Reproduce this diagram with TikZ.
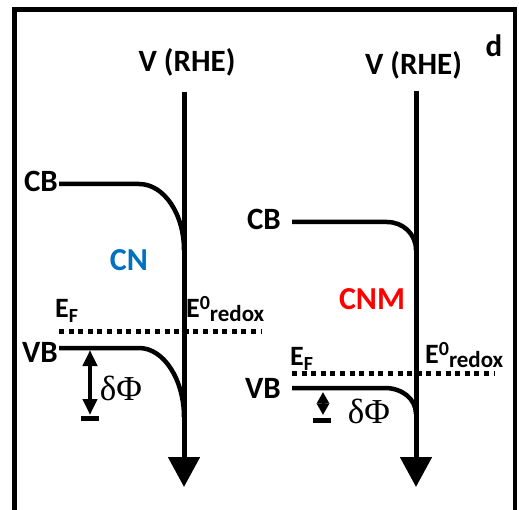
\documentclass[tikz,border=0pt]{standalone}
\usepackage{fontspec}
\setmainfont{Carlito}
\newfontfamily\symfont{Liberation Serif}
\usetikzlibrary{arrows.meta}
\definecolor{cnblue}{RGB}{0,112,192}
\definecolor{cnmred}{RGB}{255,0,0}
\newcommand{\efermi}{{\fontsize{28}{30}\selectfont E}{\fontsize{20}{22}\selectfont\raisebox{-5pt}{F}}}
\newcommand{\eredox}{{\fontsize{28}{30}\selectfont E}{\fontsize{20}{22}\selectfont\raisebox{8pt}{0}}{\fontsize{23}{25}\selectfont\raisebox{-4pt}{redox}}}
\begin{document}
\begin{tikzpicture}[x=1pt,y=-1pt,
  lbl/.style={inner sep=0pt, font=\bfseries\fontsize{31}{34}\selectfont},
  biglbl/.style={inner sep=0pt, font=\bfseries\fontsize{31}{34}\selectfont},
  cnlbl/.style={inner sep=0pt, font=\bfseries\fontsize{32}{35}\selectfont},
  elbl/.style={inner sep=0pt, font=\bfseries},
  phil/.style={inner sep=0pt, font=\symfont\fontsize{35}{38}\selectfont},
  frameline/.style={line width=4.5pt},
  axis/.style={line width=5pt, -{Triangle[width=31pt,length=30pt]}},
  band/.style={line width=4.5pt},
  fermi/.style={line width=5pt, dash pattern=on 5pt off 4.6pt},
  dphiL/.style={line width=4pt, {Triangle[width=14pt,length=16pt]}-{Triangle[width=14pt,length=16pt]}},
  dphiR/.style={line width=3pt, {Triangle[width=12pt,length=11.5pt]}-{Triangle[width=12pt,length=11.5pt]}},
  barline/.style={line width=5pt}
]
\useasboundingbox (0,0) rectangle (519,510);
% frame
\coordinate (fBL) at (14.5,514);
\coordinate (fTL) at (14.5,9.5);
\coordinate (fTR) at (515,9.5);
\coordinate (fBR) at (515,514);
\draw[frameline] (fBL) -- (fTL) -- (fTR) -- (fBR);

% axes
\coordinate (axLt) at (184,92);
\coordinate (axLb) at (184,487);
\coordinate (axRt) at (416,91);
\coordinate (axRb) at (416,487);
\draw[axis] (axLt) -- (axLb);
\draw[axis] (axRt) -- (axRb);

\node[biglbl, anchor=base] (vL) at (187,72) {V (RHE)};
\node[biglbl, anchor=base] (vR) at (413.5,75) {V (RHE)};
\node[lbl, anchor=base] (dlab) at (494,57) {d};

% left bands
\coordinate (cbL0) at (59,184);
\coordinate (cbL1) at (139,184);
\coordinate (cbL2) at (184,250);
\draw[band] (cbL0) -- (cbL1) .. controls (164,184) and (184,214) .. (cbL2);
\coordinate (vbL0) at (59,348);
\coordinate (vbL1) at (139,348);
\coordinate (vbL2) at (184,417);
\draw[band] (vbL0) -- (vbL1) .. controls (164,348) and (184,380) .. (vbL2);
\coordinate (efL0) at (59,332);
\coordinate (efL1) at (262,332);
\draw[fermi] (efL0) -- (efL1);

\node[lbl, anchor=base east] (cbLt) at (58,192) {CB};
\node[lbl, anchor=base east] (vbLt) at (58,362) {VB};
\node[cnlbl, anchor=base, text=cnblue] (cn) at (129,271) {CN};
\node[elbl, anchor=base west] (efLt) at (55,318) {\efermi};
\node[elbl, anchor=base west] (erLt) at (186,318) {\eredox};

\coordinate (dpL0) at (90,350);
\coordinate (dpL1) at (90,415);
\draw[dphiL] (dpL0) -- (dpL1);
\coordinate (brL0) at (81,418);
\coordinate (brL1) at (99,418);
\draw[barline] (brL0) -- (brL1);
\node[phil, anchor=base] (phL) at (121,400) {δΦ};

% right bands
\coordinate (cbR0) at (292,222);
\coordinate (cbR1) at (387,222);
\coordinate (cbR2) at (416,250);
\draw[band] (cbR0) -- (cbR1) .. controls (403,222) and (416,234) .. (cbR2);
\coordinate (vbR0) at (292,388);
\coordinate (vbR1) at (385,388);
\coordinate (vbR2) at (416,414);
\draw[band] (vbR0) -- (vbR1) .. controls (402,388) and (416,399) .. (vbR2);
\coordinate (efR0) at (292,373);
\coordinate (efR1) at (494,373);
\draw[fermi] (efR0) -- (efR1);

\node[lbl, anchor=base east] (cbRt) at (281,230) {CB};
\node[lbl, anchor=base east] (vbRt) at (281,398) {VB};
\node[cnlbl, anchor=base, text=cnmred] (cnm) at (372,310) {CNM};
\node[elbl, anchor=base west] (efRt) at (290,365) {\efermi};
\node[elbl, anchor=base west] (erRt) at (425,363) {\eredox};

\coordinate (dpR0) at (323,392);
\coordinate (dpR1) at (323,415);
\draw[dphiR] (dpR0) -- (dpR1);
\coordinate (brR0) at (313,420);
\coordinate (brR1) at (331,420);
\draw[barline] (brR0) -- (brR1);
\node[phil, anchor=base] (phR) at (369,423) {δΦ};
\end{tikzpicture}
\end{document}
